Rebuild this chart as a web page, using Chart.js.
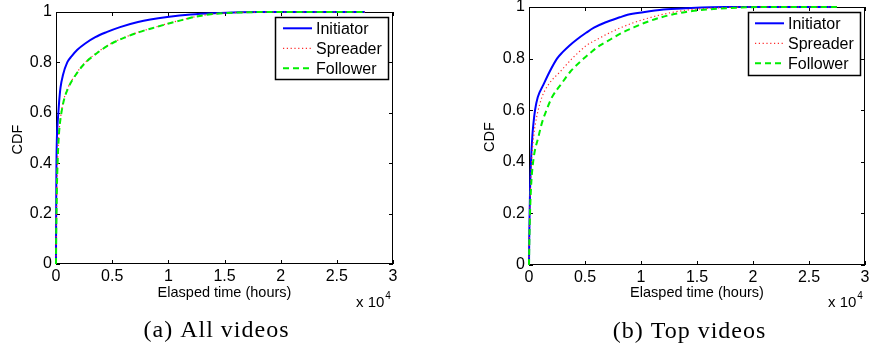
<!DOCTYPE html>
<html>
<head>
<meta charset="utf-8">
<script src="https://cdn.jsdelivr.net/npm/chart.js@4.4.1/dist/chart.umd.min.js"></script>
<style>
  html, body { margin: 0; padding: 0; background: #fff; }
  #wrap { position: relative; width: 869px; height: 349px; }
  canvas { position: absolute; top: 0; }
  #chartA { left: 0; }
  #chartB { left: 435px; }
</style>
</head>
<body>
<div id="wrap">
  <canvas id="chartA" width="435" height="349"></canvas>
  <canvas id="chartB" width="434" height="349"></canvas>
</div>
<script>
// CDF levels shared by every curve, hours at which each curve reaches them
const seriesNames = ["Initiator", "Spreader", "Follower"];
const cdfLevels = [0, 0.1, 0.2, 0.3, 0.4, 0.5, 0.55, 0.6, 0.65, 0.7, 0.75, 0.8, 0.825, 0.85, 0.875,
  0.9, 0.92, 0.94, 0.96, 0.97, 0.98, 0.99, 0.995, 1, 1];

// (a) All videos
const allInitiatorHours = [0, 5, 15, 25, 40, 80, 130, 210, 290, 400, 620, 1000, 1400, 1900, 2600,
  3500, 4500, 5700, 7300, 8400, 9900, 12000, 14000, 18000, 27500];
const allSpreaderHours = [0, 14, 43, 78, 135, 230, 320, 465, 680, 1070, 1710, 2600, 3250, 4000, 4900,
  6150, 7350, 8850, 10450, 11350, 12250, 13550, 14750, 19500, 27500];
const allFollowerHours = [0, 15, 45, 80, 140, 240, 330, 480, 700, 1100, 1750, 2640, 3300, 4050, 4950,
  6200, 7400, 8900, 10500, 11400, 12300, 13600, 14800, 19500, 27500];

// (b) Top videos
const topInitiatorHours = [0, 20, 55, 100, 175, 300, 400, 540, 780, 1300, 1850, 2500, 3000, 3600, 4300,
  5100, 5800, 6800, 8100, 8800, 10200, 12000, 14000, 17500, 27500];
const topSpreaderHours = [0, 25, 70, 130, 230, 420, 580, 820, 1150, 1750, 2800, 3840, 4450, 5100, 6100,
  7200, 8200, 9400, 10900, 11800, 12900, 14500, 16000, 20000, 27500];
const topFollowerHours = [0, 35, 90, 180, 370, 860, 1150, 1560, 2050, 2850, 3700, 4880, 5550, 6300, 7300,
  8300, 9300, 10400, 11800, 12700, 13900, 15800, 17600, 21000, 27500];

const xTickLabels = ["0", "0.5", "1", "1.5", "2", "2.5", "3"];
const yTickLabels = ["0", "0.2", "0.4", "0.6", "0.8", "1"];

const colors = {
  initiator: "#0000ff",
  spreader: "#ff2a2a",
  follower: "#00ee00",
  text: "#000000",
};

const styles = [
  { color: colors.initiator, width: 2, dash: [] },
  { color: colors.spreader, width: 1.2, dash: [1.2, 2.6] },
  { color: colors.follower, width: 2, dash: [6, 4] },
];

const sansFont = "'Liberation Sans', Arial, sans-serif";
const serifFont = "'Liberation Serif', 'Times New Roman', serif";

function toPoints(hours) {
  return hours.map((h, i) => ({ x: h, y: cdfLevels[i] }));
}

function makeDatasets(hoursList) {
  return hoursList.map((hours, i) => ({
    label: seriesNames[i],
    data: toPoints(hours),
    borderColor: styles[i].color,
    borderWidth: styles[i].width,
    borderDash: styles[i].dash,
    pointRadius: 0,
    cubicInterpolationMode: "monotone",
    clip: false,
    order: 3 - i,
  }));
}

function makeDecor(cfg) {
  return {
    id: "decor",
    beforeDatasetsDraw(chart) {
      const { ctx, chartArea: a, scales } = chart;
      ctx.save();
      ctx.strokeStyle = "#000";
      ctx.lineWidth = 1;
      ctx.strokeRect(a.left + 0.5, a.top + 0.5, a.width - 1, a.height - 1);
      ctx.beginPath();
      scales.x.ticks.forEach((t) => {
        const px = Math.round(scales.x.getPixelForValue(t.value)) + 0.5;
        ctx.moveTo(px, a.bottom);
        ctx.lineTo(px, a.bottom - 4);
        ctx.moveTo(px, a.top);
        ctx.lineTo(px, a.top + 4);
      });
      scales.y.ticks.forEach((t) => {
        const py = Math.round(scales.y.getPixelForValue(t.value)) + 0.5;
        ctx.moveTo(a.left, py);
        ctx.lineTo(a.left + 4, py);
        ctx.moveTo(a.right, py);
        ctx.lineTo(a.right - 4, py);
      });
      ctx.stroke();
      ctx.restore();
    },
    afterDraw(chart) {
      const { ctx } = chart;
      ctx.save();
      ctx.fillStyle = colors.text;

      // axis titles
      ctx.font = `14.5px ${sansFont}`;
      ctx.textAlign = "center";
      ctx.textBaseline = "middle";
      ctx.fillText("Elasped time (hours)", cfg.xTitle[0], cfg.xTitle[1]);
      ctx.save();
      ctx.translate(cfg.yTitle[0], cfg.yTitle[1]);
      ctx.rotate(-Math.PI / 2);
      ctx.fillText("CDF", 0, 0);
      ctx.restore();

      // x 10^4 exponent
      ctx.textAlign = "left";
      ctx.textBaseline = "alphabetic";
      ctx.font = `15px ${sansFont}`;
      ctx.fillText("x 10", cfg.expo[0], cfg.expo[1]);
      const w = ctx.measureText("x 10").width;
      ctx.font = `10px ${sansFont}`;
      ctx.fillText("4", cfg.expo[0] + w + 1, cfg.expo[1] - 8);

      // legend
      const lg = cfg.legend;
      ctx.fillStyle = "#fff";
      ctx.fillRect(lg.x, lg.y, lg.w, lg.h);
      ctx.strokeStyle = "#000";
      ctx.lineWidth = 1.5;
      ctx.strokeRect(lg.x + 0.5, lg.y + 0.5, lg.w, lg.h);
      ctx.font = `16px ${sansFont}`;
      ctx.textBaseline = "middle";
      seriesNames.forEach((name, i) => {
        const ry = lg.rows[i];
        ctx.beginPath();
        ctx.strokeStyle = styles[i].color;
        ctx.lineWidth = styles[i].width;
        ctx.setLineDash(styles[i].dash);
        ctx.moveTo(lg.lineX[0], ry);
        ctx.lineTo(lg.lineX[1], ry);
        ctx.stroke();
        ctx.setLineDash([]);
        ctx.fillStyle = colors.text;
        ctx.fillText(name, lg.textX, ry + 1);
      });

      // caption
      ctx.font = `24px ${serifFont}`;
      ctx.letterSpacing = "1px";
      ctx.textAlign = "center";
      ctx.fillText(cfg.caption, cfg.captionPos[0], cfg.captionPos[1]);
      ctx.restore();
    },
  };
}

function makeChart(canvasId, hoursList, layout, cfg) {
  const tickFont = { family: sansFont, size: 16, lineHeight: 1.2 };
  return new Chart(document.getElementById(canvasId), {
    type: "line",
    data: { datasets: makeDatasets(hoursList) },
    options: {
      responsive: false,
      devicePixelRatio: 1,
      animation: false,
      layout: { padding: { left: 0, top: layout.top, right: layout.right, bottom: 0 } },
      plugins: { legend: { display: false }, tooltip: { enabled: false } },
      scales: {
        x: {
          type: "linear",
          min: 0,
          max: 30000,
          grid: { display: false, drawTicks: false },
          border: { display: false },
          ticks: {
            stepSize: 5000,
            autoSkip: false,
            maxRotation: 0,
            padding: 3,
            color: colors.text,
            font: tickFont,
            callback: (value, index) => xTickLabels[index],
          },
          afterFit: (scale) => {
            scale.height = layout.xHeight;
            scale.paddingLeft = 0;
            scale.paddingRight = 0;
          },
        },
        y: {
          type: "linear",
          min: 0,
          max: 1,
          grid: { display: false, drawTicks: false },
          border: { display: false },
          ticks: {
            stepSize: 0.2,
            padding: 4,
            color: colors.text,
            font: tickFont,
            callback: (value, index) => yTickLabels[index],
          },
          afterFit: (scale) => {
            scale.width = layout.yWidth;
            scale.paddingTop = 0;
            scale.paddingBottom = 0;
          },
        },
      },
    },
    plugins: [makeDecor(cfg)],
  });
}

document.addEventListener("DOMContentLoaded", () => {
  makeChart(
    "chartA",
    [allInitiatorHours, allSpreaderHours, allFollowerHours],
    { top: 12, right: 42, xHeight: 85, yWidth: 56 },
    {
      xTitle: [224.5, 293],
      yTitle: [17.5, 139.5],
      expo: [356, 307],
      legend: { x: 275, y: 17, w: 113, h: 62, lineX: [283, 312], textX: 316, rows: [28.3, 48.3, 68.3] },
      caption: "(a) All videos",
      captionPos: [216.5, 331],
    }
  );
  makeChart(
    "chartB",
    [topInitiatorHours, topSpreaderHours, topFollowerHours],
    { top: 7, right: 4, xHeight: 84, yWidth: 94 },
    {
      xTitle: [262, 293],
      yTitle: [55, 137],
      expo: [393, 307],
      legend: { x: 313, y: 12, w: 112, h: 63, lineX: [320, 349], textX: 353, rows: [23.3, 43.3, 63.3] },
      caption: "(b) Top videos",
      captionPos: [254.5, 332],
    }
  );
});
</script>
</body>
</html>
